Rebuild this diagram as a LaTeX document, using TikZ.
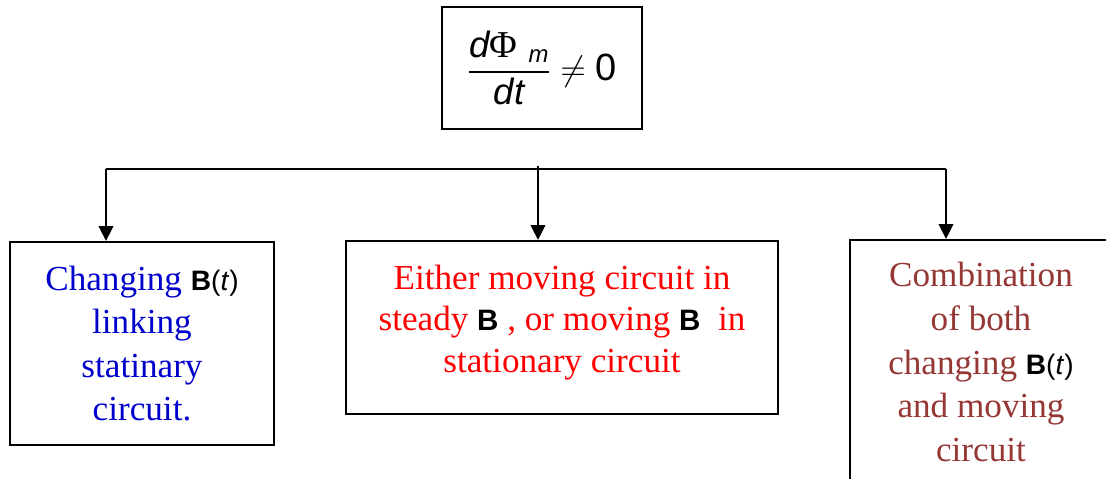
\documentclass[tikz,border=0pt]{standalone}
\usepackage{amsmath}
\usepackage{fontspec}
\setmainfont{Liberation Serif}
\setsansfont{Liberation Sans}
\usetikzlibrary{arrows.meta,positioning,calc}
\definecolor{CaseBlue}{RGB}{0,0,204}
\definecolor{CaseRed}{RGB}{255,0,0}
\definecolor{CaseBrown}{RGB}{149,55,53}
\newcommand{\fieldB}{\textcolor{black}{\sffamily\bfseries\fontsize{21}{24}\selectfont B}}
\newcommand{\fieldBt}{\textcolor{black}{\sffamily\fontsize{20}{24}\selectfont\textbf{B}(\textit{t})}}
\newcommand{\fluxvar}[2]{\text{\fontsize{#1}{#1}\selectfont\sffamily\itshape #2}}
\tikzset{
  fluxbox/.style={draw=black,line width=1.4pt,minimum width=5cm,minimum height=3.05cm,inner sep=0pt,font=\fontsize{27}{32}\selectfont},
  casebox/.style={draw=black,line width=1.4pt,align=center,inner sep=0pt,font=\fontsize{25}{31}\selectfont},
  busline/.style={draw=black,line width=1.4pt},
  branch/.style={-{Triangle[length=0.37cm,width=0.36cm]},draw=black,line width=1.4pt}
}

\begin{document}
\begin{tikzpicture}[x=0.025cm,y=-0.025cm]
\useasboundingbox (0,0) rectangle (1106,479);
\clip (0,0) rectangle (1106,479);

\node[fluxbox] (flux) at (542,68) {$\dfrac{\fluxvar{26}{d}\text{\fontsize{27}{27}\selectfont Φ}_{\hspace{0.3em}\fluxvar{17}{m}}}{\fluxvar{26}{dt}}\neq\text{\sffamily 0}$};

\node[casebox,text=CaseBlue,minimum width=6.6cm,minimum height=5.075cm] (changeB) at (142,343.5) {Changing \fieldBt\\linking\\statinary\\circuit.};
\node[casebox,text=CaseRed,minimum width=10.8cm,minimum height=4.325cm,font=\fontsize{25}{29.5}\selectfont] (moveB) at (562,327.5) {Either moving circuit in\\steady \fieldB\ , or moving \fieldB\ \ in\\stationary circuit\rule[-13pt]{0pt}{13pt}};
\node[casebox,text=CaseBrown,minimum width=6.55cm,minimum height=6.1cm] (bothB) at (981,362) {Combination\\of both\\changing \fieldBt\\and moving\\circuit};

\coordinate (busL) at (106,169);
\coordinate (busM) at (538,166);
\coordinate (busR) at (946,169);
\draw[busline] (busL) -- (busR);
\draw[branch] (busL) -- (busL |- changeB.north);
\draw[branch] (busM) -- (busM |- moveB.north);
\draw[branch] (busR) -- (busR |- bothB.north);
\end{tikzpicture}
\end{document}
